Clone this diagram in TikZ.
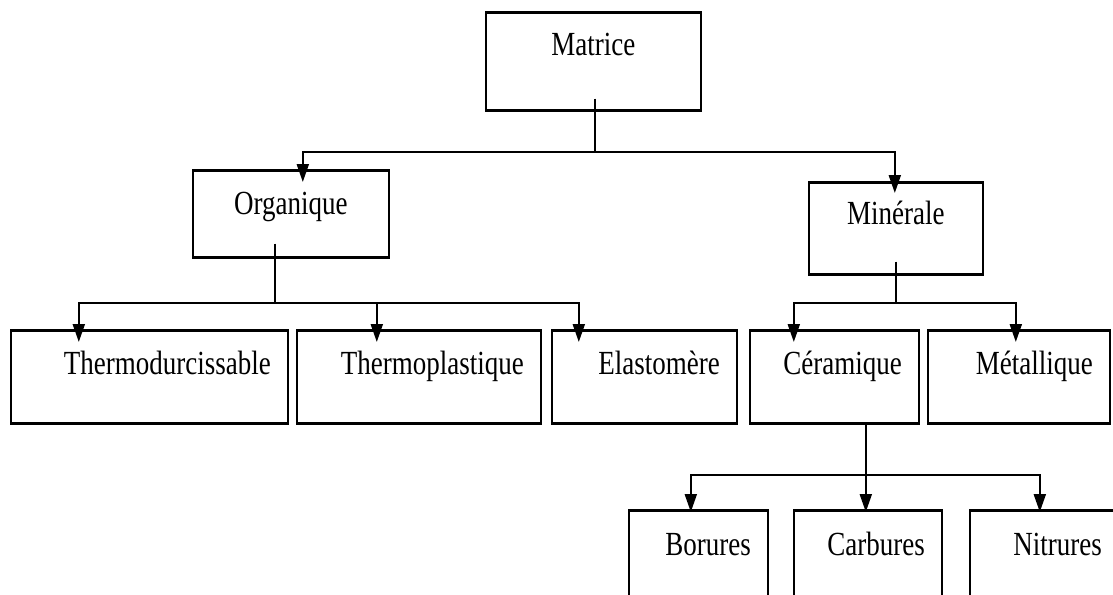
\documentclass[tikz,border=0pt]{standalone}
\usepackage{fontspec}
\setmainfont{Liberation Serif}
\usepackage{graphicx}
\usetikzlibrary{arrows.meta}
% the labels of the reference are drawn a bit taller than wide
\newcommand{\tallt}[1]{\scalebox{1}[1.25]{#1}}

\begin{document}
\begin{tikzpicture}[x=1pt,y=1pt,
        box/.style={draw,line width=1.6pt,anchor=north west,inner ysep=0pt,
            font=\fontsize{27}{30}\selectfont},
        mid/.style={box,align=center},
        leaf/.style={box,align=right,inner xsep=17pt},
        link/.style={line width=1.7pt},
        arr/.style={line width=2.1pt,-{Triangle[length=18pt,width=12pt]}}]
        % frame of the picture, the last row runs out at the bottom edge
        \useasboundingbox (0,0) rectangle (1113,-594);
        \clip (0,0) rectangle (1113,-594);

        % top of the tree
        \node[mid,minimum width=215pt,text height=43pt,text depth=54pt] (mat) at (485,-12) {\tallt{Matrice}};

        % second level
        \node[mid,minimum width=196pt,text height=44pt,text depth=42pt] (org) at (192,-170) {\tallt{Organique}};
        \node[mid,minimum width=174pt,text height=42pt,text depth=49pt] (min) at (808,-182) {\tallt{Minérale}};

        % third level
        \begin{scope}[every node/.append style={text height=44pt,text depth=48pt}]
            \node[leaf,text width=243pt] (thd) at (10,-330)  {\tallt{Thermodurcissable}};
            \node[leaf,text width=210pt] (thp) at (296,-330) {\tallt{Thermoplastique}};
            \node[leaf,text width=151pt] (ela) at (551,-330) {\tallt{Elastomère}};
            \node[leaf,text width=135pt] (cer) at (749,-330) {\tallt{Céramique}};
            \node[leaf,text width=148pt] (met) at (927,-330) {\tallt{Métallique}};
        \end{scope}

        % last level, boxes go on below the frame
        \begin{scope}[every node/.append style={text height=45pt,text depth=70pt}]
            \node[leaf,text width=105pt] (bor) at (628,-510) {\tallt{Borures}};
            \node[leaf,text width=114pt] (car) at (793,-510) {\tallt{Carbures}};
            \node[leaf,text width=115pt] (nit) at (969,-510) {\tallt{Nitrures}};
        \end{scope}

        % top and bottom edges of the boxes are heavier
        \foreach \n in {mat,org,min,thd,thp,ela,cer,met,bor,car,nit}
            \draw[line width=2.8pt] (\n.north west) -- (\n.north east)
                                    (\n.south west) -- (\n.south east);

        % links from matrice, the tips reach into the boxes
        \draw[link] ([shift={(1.5pt,12pt)}]mat.south) -- ++(0,-53) coordinate (jm);
        \draw[arr] (jm) -| ([shift={(12pt,-12pt)}]org.north);
        \draw[arr] (jm) -| ([shift={(-1pt,-11pt)}]min.north);

        % links from organique
        \draw[link] ([shift={(-16pt,14pt)}]org.south) -- ++(0,-59) coordinate (jo);
        \draw[arr] (jo) -| ([shift={(-70.5pt,-12pt)}]thd.north);
        \draw[arr] (jo) -| ([shift={(-42pt,-12pt)}]thp.north);
        \draw[arr] (jo) -| ([shift={(-65.5pt,-12pt)}]ela.north);

        % links from minerale
        \draw[link] ([yshift=13pt]min.south) -- ++(0,-41) coordinate (jn);
        \draw[arr] (jn) -| ([shift={(-40.5pt,-12pt)}]cer.north);
        \draw[arr] (jn) -| ([shift={(-3pt,-12pt)}]met.north);

        % links from ceramique
        \draw[link] ([xshift=31.5pt]cer.south) -- ++(0,-51) coordinate (jc);
        \draw[arr] (jc) -| ([shift={(-7.5pt,-2pt)}]bor.north);
        \draw[arr] (jc) -- ([shift={(-2pt,-2pt)}]car.north);
        \draw[arr] (jc) -| ([shift={(-4.5pt,-2pt)}]nit.north);
\end{tikzpicture}
\end{document}
